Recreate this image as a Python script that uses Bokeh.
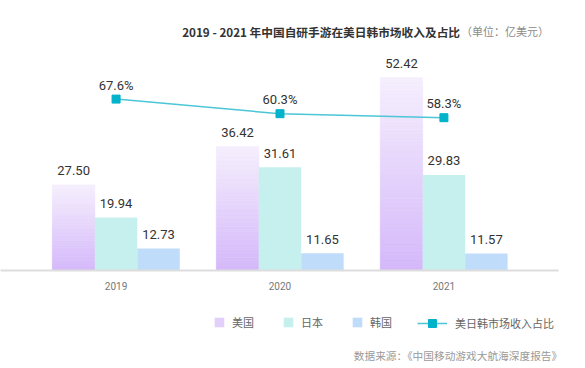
import numpy as np
from bokeh.plotting import figure
from bokeh.models import Range1d, Label, Legend, LegendItem, ColumnDataSource
from bokeh.layouts import column
from bokeh.core.properties import value
from bokeh.embed import file_html
from bokeh.resources import INLINE

# ---------------- data ----------------
years = ["2019", "2020", "2021"]
us = [27.50, 36.42, 52.42]
jp = [19.94, 31.61, 29.83]
kr = [12.73, 11.65, 11.57]
share = [67.6, 60.3, 58.3]

series_names = ["美国", "日本", "韩国"]
line_name = "美日韩市场收入占比"
title_text = "2019 - 2021 年中国自研手游在美日韩市场收入及占比"
unit_text = "（单位：亿美元）"
source_text = "数据来源：《中国移动游戏大航海深度报告》"

# ---------------- style ----------------
FONT_CJK = "Noto Sans CJK SC"
FONT_NUM = "Roboto"
US_TOP = (0xF5, 0xEE, 0xFD)
US_BOT = (0xD4, 0xB8, 0xFA)
US_MID = "#e2d0fb"
JP_C = "#c6f0ed"
KR_C = "#bfdcfa"
LINE_C = "#4cc6d6"
MK_C = "#00b2ca"
LABEL_C = "#333333"

W = 585
RIGHT_B = 27
FW = W - RIGHT_B           # frame width shared by all strips
TITLE_H = 48
CHART_H = 252
LEG_H = 368 - TITLE_H - CHART_H
FRAME_H = 222
YMIN, YMAX = 7.65, 59.16
PCT_MIN, PCT_MAX = -18.1, 92.9
PX_PER_UNIT = FRAME_H / (YMAX - YMIN)
PCT_PX = FRAME_H / (PCT_MAX - PCT_MIN)
BW = 0.259
LABEL_GAP = 14.0


def strip(h):
    f = figure(width=W, height=h, x_range=Range1d(0, FW), y_range=Range1d(0, h),
               output_backend="svg", toolbar_location=None,
               x_axis_location=None, y_axis_location=None,
               min_border_left=0, min_border_right=RIGHT_B,
               min_border_top=0, min_border_bottom=0,
               outline_line_color=None)
    f.grid.visible = False
    return f


# ---------------- title strip ----------------
tf = strip(TITLE_H)
tf.add_layout(Label(x=459.5, y=17.5, text=title_text, text_font=FONT_CJK,
                    text_font_size="11.7px", text_font_style="bold",
                    text_color="#333333", text_align="right", text_baseline="middle"))
tf.add_layout(Label(x=460.5, y=17.5, text=unit_text, text_font=FONT_CJK,
                    text_font_size="11px", text_color="#8a8a8a",
                    text_align="left", text_baseline="middle"))

# ---------------- chart ----------------
p = figure(width=W, height=CHART_H, x_range=Range1d(-0.705, 2.699),
           y_range=Range1d(YMIN, YMAX), output_backend="svg",
           toolbar_location=None, y_axis_location=None,
           min_border_left=0, min_border_right=RIGHT_B, min_border_top=0,
           min_border_bottom=CHART_H - FRAME_H, outline_line_color=None)
p.extra_y_ranges = {"pct": Range1d(PCT_MIN, PCT_MAX)}
p.grid.visible = False

xs = np.arange(len(years), dtype=float)

# US bars with vertical gradient (built as thin slices of each bar)
N = 48
gx, gb, gt, gc = [], [], [], []
for i, v in enumerate(us):
    for k in range(N):
        b = YMIN + (v - YMIN) * k / N
        t = YMIN + (v - YMIN) * (k + 1) / N
        f = k / (N - 1)
        c = tuple(int(round(US_BOT[j] + (US_TOP[j] - US_BOT[j]) * f)) for j in range(3))
        gx.append(xs[i] - BW)
        gb.append(b)
        gt.append(t)
        gc.append("#%02x%02x%02x" % c)
p.vbar(x="x", bottom="b", top="t", width=BW, fill_color="c", line_color="c",
       line_width=0.6, source=ColumnDataSource(dict(x=gx, b=gb, t=gt, c=gc)))

p.vbar(x=xs, bottom=YMIN, top=jp, width=BW, fill_color=JP_C, line_color=None)
p.vbar(x=xs + BW, bottom=YMIN, top=kr, width=BW, fill_color=KR_C, line_color=None)

# value labels
for off, vals in ((-BW, us), (0.0, jp), (BW, kr)):
    p.text(x=xs + off, y=[v + LABEL_GAP / PX_PER_UNIT for v in vals],
           text=["%.2f" % v for v in vals], text_align="center",
           text_baseline="alphabetic", text_font=value(FONT_NUM),
           text_font_size="13px", text_color=LABEL_C)

# share line
p.line(x=xs, y=share, y_range_name="pct", line_color=LINE_C, line_width=1.5)
p.scatter(x=xs, y=share, y_range_name="pct", marker="square", size=8,
          fill_color=MK_C, line_color=MK_C)
p.text(x=xs, y=[s + LABEL_GAP / PCT_PX for s in share], y_range_name="pct",
       text=["%.1f%%" % s for s in share], text_align="center",
       text_baseline="alphabetic", text_font=value(FONT_NUM),
       text_font_size="13px", text_color=LABEL_C)

ax = p.xaxis[0]
ax.ticker = list(range(len(years)))
ax.major_label_overrides = {i: y for i, y in enumerate(years)}
ax.major_tick_line_color = None
ax.minor_tick_line_color = None
ax.axis_line_color = "#dddddd"
ax.axis_line_width = 2
ax.major_label_text_font = FONT_NUM
ax.major_label_text_font_size = "10px"
ax.major_label_text_color = "#777777"
ax.major_label_standoff = 5

# ---------------- legend strip ----------------
lf = strip(LEG_H)
# legend proxies: one point each, placed outside the visible range
OFF = -100
r_us = lf.vbar(x=[OFF], top=[OFF], width=1, fill_color=US_MID, line_color=None)
r_jp = lf.vbar(x=[OFF], top=[OFF], width=1, fill_color=JP_C, line_color=None)
r_kr = lf.vbar(x=[OFF], top=[OFF], width=1, fill_color=KR_C, line_color=None)
r_ln = lf.line(x=[OFF, OFF - 1], y=[OFF, OFF], line_color=LINE_C, line_width=1.5)
r_mk = lf.scatter(x=[OFF], y=[OFF], marker="square", size=8, fill_color=MK_C, line_color=MK_C)

common = dict(orientation="horizontal", padding=0, margin=0,
              border_line_color=None, background_fill_alpha=0,
              label_text_font=FONT_CJK, label_text_font_size="11px",
              label_text_color="#666666", label_height=12)
leg1 = Legend(items=[LegendItem(label=series_names[0], renderers=[r_us]),
                     LegendItem(label=series_names[1], renderers=[r_jp]),
                     LegendItem(label=series_names[2], renderers=[r_kr])],
              location=(213, 38), glyph_width=12, glyph_height=12,
              label_standoff=7, spacing=28, **common)
leg2 = Legend(items=[LegendItem(label=line_name, renderers=[r_ln, r_mk])],
              location=(417, 35), glyph_width=30, glyph_height=20,
              label_standoff=8, spacing=0, **common)
lf.add_layout(leg1, "center")
lf.add_layout(leg2, "center")
lf.add_layout(Label(x=561.7, y=13.3, text=source_text, text_font=FONT_CJK,
                    text_font_size="10.7px", text_color="#9a9a9a",
                    text_align="right", text_baseline="middle"))

layout = column(tf, p, lf)
open("out.html", "w").write(file_html(layout, INLINE))
